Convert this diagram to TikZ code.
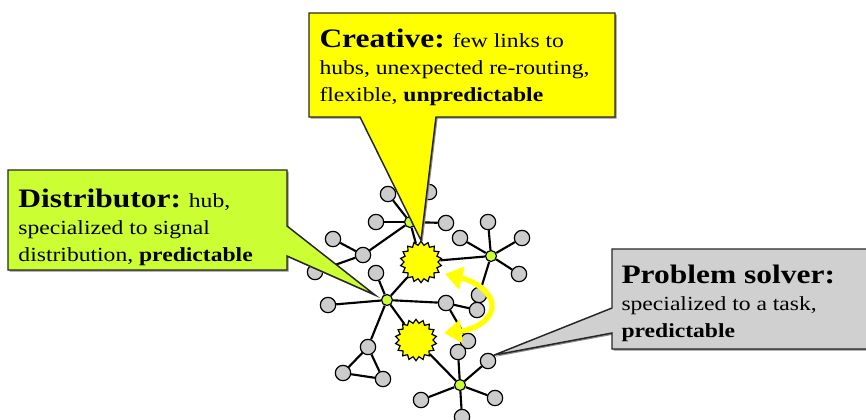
\documentclass[tikz,border=0pt]{standalone}
\usepackage{fontspec}
\setmainfont{Liberation Serif}[FakeStretch=1.18]
\usetikzlibrary{shapes.geometric,arrows.meta,calc,shadows}

\definecolor{creativeyellow}{RGB}{255,255,0}
\definecolor{distlime}{RGB}{204,255,51}
\definecolor{solvergray}{RGB}{208,208,208}
\definecolor{leafgray}{RGB}{204,204,204}
\definecolor{hubgreen}{RGB}{204,255,51}

\newcommand{\titlefont}{\fontsize{20}{20}\selectfont\bfseries}
\newcommand{\bodyfont}{\fontsize{15}{20.25}\selectfont\mdseries}

\tikzset{every picture/.style={line width=0.75pt}}
\tikzset{
  leaf/.style={circle,draw,fill=leafgray,inner sep=0pt,minimum size=11.5pt,line width=0.9pt},
  hub/.style={circle,draw,fill=hubgreen,inner sep=0pt,minimum size=8.25pt,line width=0.9pt},
  burst/.style={star,star points=18,star point ratio=1.22,draw,fill=creativeyellow,inner sep=0pt,minimum size=31pt,line width=0.9pt},
  link/.style={line width=1.6pt},
  calloutshape/.style={draw=black!85,line width=1.1pt,drop shadow={shadow xshift=1.2pt,shadow yshift=-1.2pt,fill=black!45,opacity=1}},
  callouttext/.style={anchor=north west,inner sep=0pt,align=left,font=\bodyfont},
}

\begin{document}
\begin{tikzpicture}[x=0.75pt,y=0.75pt,yscale=-1,xscale=1]
\useasboundingbox (0,0) rectangle (866,419);

%Nodes: top hub and its leaves
\node[hub] (hubT) at (410,222) {};
\node[leaf] (tA) at (388,194) {};
\node[leaf] (tB) at (429,192) {};
\node[leaf] (tC) at (376,222) {};
\node[leaf] (tD) at (446,223) {};
\node[leaf] (lA) at (363,255) {};
\node[leaf] (lB) at (333,239) {};
\node[leaf] (lC) at (315,272) {};
%Nodes: creative bursts
\node[burst] (sA) at (421,262) {};
\node[burst] (sB) at (416,340) {};
%Nodes: right hub
\node[hub] (hubR) at (491,256) {};
\node[leaf] (rA) at (460,238) {};
\node[leaf] (rB) at (488,222) {};
\node[leaf] (rC) at (522,238) {};
\node[leaf] (rD) at (519,274) {};
\node[leaf] (rE) at (479,295) {};
%Nodes: left hub (distributor)
\node[hub] (hubL) at (387,300) {};
\node[leaf] (mA) at (376,273) {};
\node[leaf] (mB) at (328,305) {};
\node[leaf] (mC) at (446,303) {};
\node[leaf] (mD) at (477,310) {};
\node[leaf] (mE) at (468,341) {};
\node[leaf] (dA) at (368,347) {};
\node[leaf] (dB) at (343,373) {};
\node[leaf] (dC) at (383,379) {};
%Nodes: bottom hub
\node[hub] (hubB) at (460,385) {};
\node[leaf] (bA) at (458,352) {};
\node[leaf] (bB) at (488,361) {};
\node[leaf] (bC) at (421,400) {};
\node[leaf] (bD) at (495,398) {};
\node[leaf] (bE) at (462,417) {};

%Links
\foreach \n in {tA,tB,tC,tD,lA,sA} \draw[link] (hubT) -- (\n);
\foreach \n in {lB,lC} \draw[link] (lA) -- (\n);
\foreach \n in {rA,rB,rC,rD,rE,sA} \draw[link] (hubR) -- (\n);
\foreach \n in {mA,mB,sA,mC,sB,dA} \draw[link] (hubL) -- (\n);
\foreach \n in {mD,mE} \draw[link] (mC) -- (\n);
\draw[link] (dA) -- (dB) -- (dC) -- (dA);
\draw[link] (sB) -- (hubB);
\foreach \n in {bA,bB,bC,bD,bE} \draw[link] (hubB) -- (\n);

%Re-routing arrow
\coordinate (swapT) at (445,274);
\coordinate (swapB) at (444,333);
\draw[creativeyellow,line width=4pt,{Triangle[length=13pt,width=17pt]}-{Triangle[length=13pt,width=17pt]}] (swapT) .. controls (478,282) and (494,295) .. (492,308) .. controls (490,322) and (472,330) .. (swapB);

%Callout: creative
\draw[calloutshape,fill=creativeyellow] (309,13) -- (615,13) -- (615,117) -- (436,117) -- (sA.north) -- (360,117) -- (309,117) -- cycle;
%Callout: distributor
\coordinate (distTip) at ($(hubL.center)+(-12,-5)$);
\draw[calloutshape,fill=distlime] (8,170) -- (287,170) -- (287,226) -- (distTip) -- (287,256) -- (287,270) -- (8,270) -- cycle;
%Callout: problem solver
\draw[calloutshape,fill=solvergray] (612,249) -- (870,249) -- (870,349) -- (612,349) -- (612,333) -- (bB.north east) -- (612,308) -- cycle;

% Text Node
\node[callouttext] (creativeText) at (319,28) {{\titlefont Creative:} few links to\\hubs, unexpected re-routing,\\flexible, \textbf{unpredictable}};
% Text Node
\node[callouttext] (distText) at (18,188) {{\titlefont Distributor:} hub,\\specialized to signal\\distribution, \textbf{predictable}};
% Text Node
\node[callouttext] (solverText) at (621,264) {{\titlefont Problem solver:}\\specialized to a task,\\\textbf{predictable}};

\end{tikzpicture}
\end{document}
